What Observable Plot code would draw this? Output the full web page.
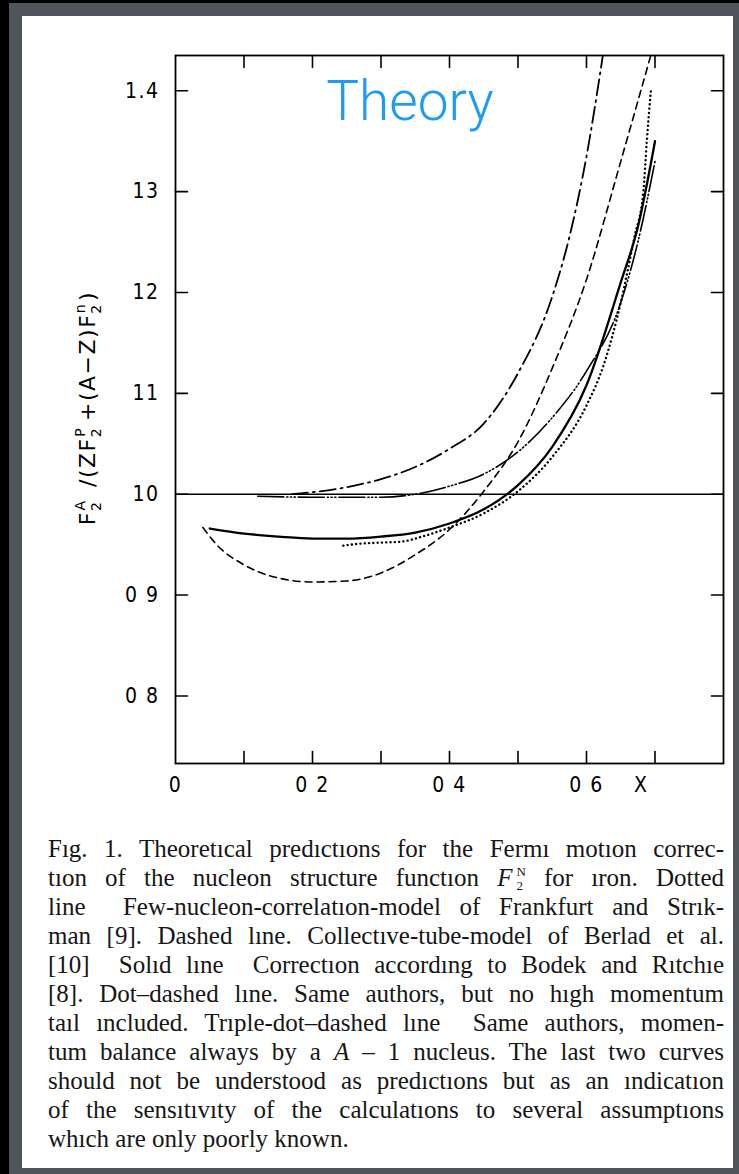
<!DOCTYPE html>
<html><head><meta charset="utf-8">
<script src="https://cdn.jsdelivr.net/npm/d3@7"></script>
<script src="https://cdn.jsdelivr.net/npm/@observablehq/plot@0.6"></script>
<style>
html,body{margin:0;padding:0;}
body{width:739px;height:1174px;background:#000;position:relative;overflow:hidden;}
#gray{position:absolute;left:9px;top:3px;width:730px;height:1171px;background:#50555c;}
#white{position:absolute;left:22px;top:16px;width:711px;height:1152px;background:#fff;}
#chart{position:absolute;left:22px;top:16px;}
#caption{position:absolute;left:48px;top:834px;width:676px;font-family:"Liberation Serif","Times New Roman",serif;font-size:25px;line-height:29px;color:#161616;}
#caption div{text-align:justify;text-align-last:justify;white-space:nowrap;height:29px;}
#caption div.last{text-align-last:left;}
.stack{display:inline-flex;flex-direction:column;font-size:13px;line-height:14px;vertical-align:10px;margin:-20px 0 -20px 4px;}
</style></head>
<body>
<div id="gray"></div>
<div id="white"></div>
<div id="chart"></div>
<div id="caption">
<div><span>Fıg. 1. Theoretıcal predıctıons for the Fermı motıon correc-</span></div>
<div><span>tıon of the nucleon structure functıon <i>F</i><span class="stack"><span>N</span><span>2</span></span> for ıron. Dotted</span></div>
<div><span>line&nbsp; Few-nucleon-correlatıon-model of Frankfurt and Strık-</span></div>
<div><span>man [9]. Dashed lıne. Collectıve-tube-model of Berlad et al.</span></div>
<div><span>[10]&nbsp; Solıd lıne&nbsp; Correctıon accordıng to Bodek and Rıtchıe</span></div>
<div><span>[8]. Dot–dashed lıne. Same authors, but no hıgh momentum</span></div>
<div><span>taıl ıncluded. Trıple-dot–dashed lıne&nbsp; Same authors, momen-</span></div>
<div><span>tum balance always by a <i>A</i> – 1 nucleus. The last two curves</span></div>
<div><span>should not be understood as predıctıons but as an ındicatıon</span></div>
<div><span>of the sensıtıvıty of the calculatıons to several assumptıons</span></div>
<div class="last"><span>whıch are only poorly known.</span></div>
</div>
<script>
// ---- data ----
const xTickValues = [0, 0.2, 0.4, 0.6, 0.68];
const xTickLabels = ["0", "0 2", "0 4", "0 6", "X"];
const xMinorTicks = [0.1, 0.2, 0.3, 0.4, 0.5, 0.6, 0.7];
const yTickValues = [0.8, 0.9, 1.0, 1.1, 1.2, 1.3, 1.4];
const yTickLabels = ["0 8", "0 9", "10", "11", "12", "13", "1.4"];

// Solid: Bodek and Ritchie
const xSolid = [0.05, 0.1, 0.15, 0.2, 0.25, 0.3, 0.35, 0.4, 0.45, 0.5, 0.55, 0.6, 0.65, 0.675, 0.7];
const ySolid = [0.966, 0.961, 0.958, 0.956, 0.956, 0.958, 0.962, 0.971, 0.985, 1.009, 1.047, 1.108, 1.21, 1.265, 1.35];
// Dashed: collective-tube model
const xDashed = [0.04, 0.06, 0.1, 0.15, 0.2, 0.25, 0.3, 0.35, 0.4, 0.45, 0.5, 0.55, 0.6, 0.65, 0.7];
const yDashed = [0.967, 0.950, 0.930, 0.917, 0.913, 0.914, 0.922, 0.940, 0.965, 1.003, 1.052, 1.125, 1.213, 1.33, 1.45];
// Dotted: few-nucleon-correlation model
const xDotted = [0.245, 0.27, 0.3, 0.33, 0.36, 0.4, 0.45, 0.5, 0.55, 0.6, 0.625, 0.65, 0.67, 0.683, 0.688, 0.694];
const yDotted = [0.949, 0.951, 0.952, 0.953, 0.958, 0.967, 0.981, 1.003, 1.037, 1.088, 1.128, 1.19, 1.255, 1.30, 1.35, 1.40];
// Dot-dashed: no high momentum tail
const xDotDash = [0.17, 0.2, 0.25, 0.3, 0.35, 0.4, 0.45, 0.5, 0.55, 0.575, 0.6, 0.625];
const yDotDash = [1.0, 1.002, 1.007, 1.015, 1.027, 1.045, 1.07, 1.12, 1.196, 1.255, 1.335, 1.44];
// Triple-dot-dashed: A-1 nucleus balance
const xTriple = [0.12, 0.2, 0.25, 0.3, 0.35, 0.4, 0.45, 0.5, 0.55, 0.6, 0.65, 0.675, 0.7];
const yTriple = [0.998, 0.997, 0.997, 0.997, 1.0, 1.008, 1.02, 1.042, 1.076, 1.122, 1.19, 1.25, 1.33];

const toPts = (xs, ys) => xs.map((x, i) => ({x, y: ys[i]}));
const solid = toPts(xSolid, ySolid);
const dashed = toPts(xDashed, yDashed);
const dotted = toPts(xDotted, yDotted);
const dotDash = toPts(xDotDash, yDotDash);
const triple = toPts(xTriple, yTriple);

const FONT = '"DejaVu Sans Condensed","Liberation Sans Narrow","Roboto Condensed","DejaVu Sans",sans-serif';
const tickShape = {draw(context, l) { context.moveTo(0, 0); context.lineTo(0, -l); }};
const tickOpts = {length: 12, anchor: "start", shape: tickShape, stroke: "black", strokeWidth: 1.6};

const chart = Plot.plot({
  width: 711, height: 800,
  marginLeft: 153, marginRight: 10, marginTop: 39, marginBottom: 53,
  style: {background: "white", fontFamily: FONT, color: "black"},
  x: {domain: [0, 0.8]},
  y: {domain: [0.733, 1.435]},
  marks: [
    Plot.ruleY([1.0], {stroke: "black", strokeWidth: 1.6}),
    Plot.line(dashed, {x: "x", y: "y", curve: "monotone-x", clip: true, stroke: "black", strokeWidth: 1.6, strokeDasharray: "7,5"}),
    Plot.line(dotDash, {x: "x", y: "y", curve: "monotone-x", clip: true, stroke: "black", strokeWidth: 1.8, strokeDasharray: "16,5,2,5"}),
    Plot.line(triple, {x: "x", y: "y", curve: "monotone-x", clip: true, stroke: "black", strokeWidth: 1.6, strokeDasharray: "26,3,1.2,2.5,1.2,2.5,1.2,3"}),
    Plot.line(dotted, {x: "x", y: "y", curve: "monotone-x", clip: true, stroke: "black", strokeWidth: 2.4, strokeLinecap: "round", strokeDasharray: "0.1,4.2"}),
    Plot.line(solid, {x: "x", y: "y", curve: "monotone-x", clip: true, stroke: "black", strokeWidth: 2.3}),
    Plot.vector(xMinorTicks, {x: d => d, frameAnchor: "bottom", rotate: 0, ...tickOpts}),
    Plot.vector(xMinorTicks, {x: d => d, frameAnchor: "top", rotate: 180, ...tickOpts}),
    Plot.vector(yTickValues, {y: d => d, frameAnchor: "left", rotate: 90, ...tickOpts}),
    Plot.vector(yTickValues, {y: d => d, frameAnchor: "right", rotate: 270, ...tickOpts}),
    Plot.frame({stroke: "black", strokeWidth: 1.8}),
    Plot.axisX(xTickValues, {tickSize: 0, tickPadding: 14, fontSize: 21, label: null,
      tickFormat: d => xTickLabels[xTickValues.indexOf(d)]}),
    Plot.axisY(yTickValues, {tickSize: 0, tickPadding: 16, fontSize: 21, label: null,
      tickFormat: d => yTickLabels[yTickValues.indexOf(d)]})
  ]
});
document.getElementById("chart").appendChild(chart);
d3.select(chart).selectAll("[aria-label='x-axis tick label'] text, [aria-label='y-axis tick label'] text")
  .attr("letter-spacing", 1.5);

const svg = d3.select(chart);
// Title annotation
svg.append("text").attr("x", 388).attr("y", 104).attr("text-anchor", "middle")
  .attr("font-family", "Roboto, 'Open Sans', sans-serif").attr("font-weight", 300)
  .attr("font-size", 55).attr("fill", "#1e9bf5").text("Theory");

// Y axis label with sub/superscripts
const lab = svg.append("text").attr("transform", "translate(73,392) rotate(-90)")
  .attr("text-anchor", "middle").attr("font-family", '"DejaVu Sans", sans-serif')
  .attr("font-size", 22).attr("letter-spacing", 1.5).attr("fill", "black");
const parts = [
  ["F", 22, 0, 0], ["2", 14, 0, 6], ["A", 14, -10, -16],
  ["\u2002/(Z", 22, 0, 10], ["F", 22, 0, 0], ["2", 14, 0, 6], ["P", 14, -10, -16],
  ["\u2009+(A\u2212Z)F", 22, 0, 10], ["2", 14, 0, 6], ["n", 14, -10, -16], [")", 22, 2, 10]
];
for (const [t, fs, dx, dy] of parts) {
  lab.append("tspan").attr("font-size", fs).attr("dx", dx).attr("dy", dy).text(t);
}

// caption: spread slack over letters as well as spaces, like the typeset original
document.querySelectorAll("#caption div:not(.last) > span").forEach(sp => {
  const w = sp.getBoundingClientRect().width;
  const n = sp.textContent.length;
  const slack = 676 - w;
  sp.style.letterSpacing = (slack * 0.55 / n) + "px";
});
</script>
</body></html>
